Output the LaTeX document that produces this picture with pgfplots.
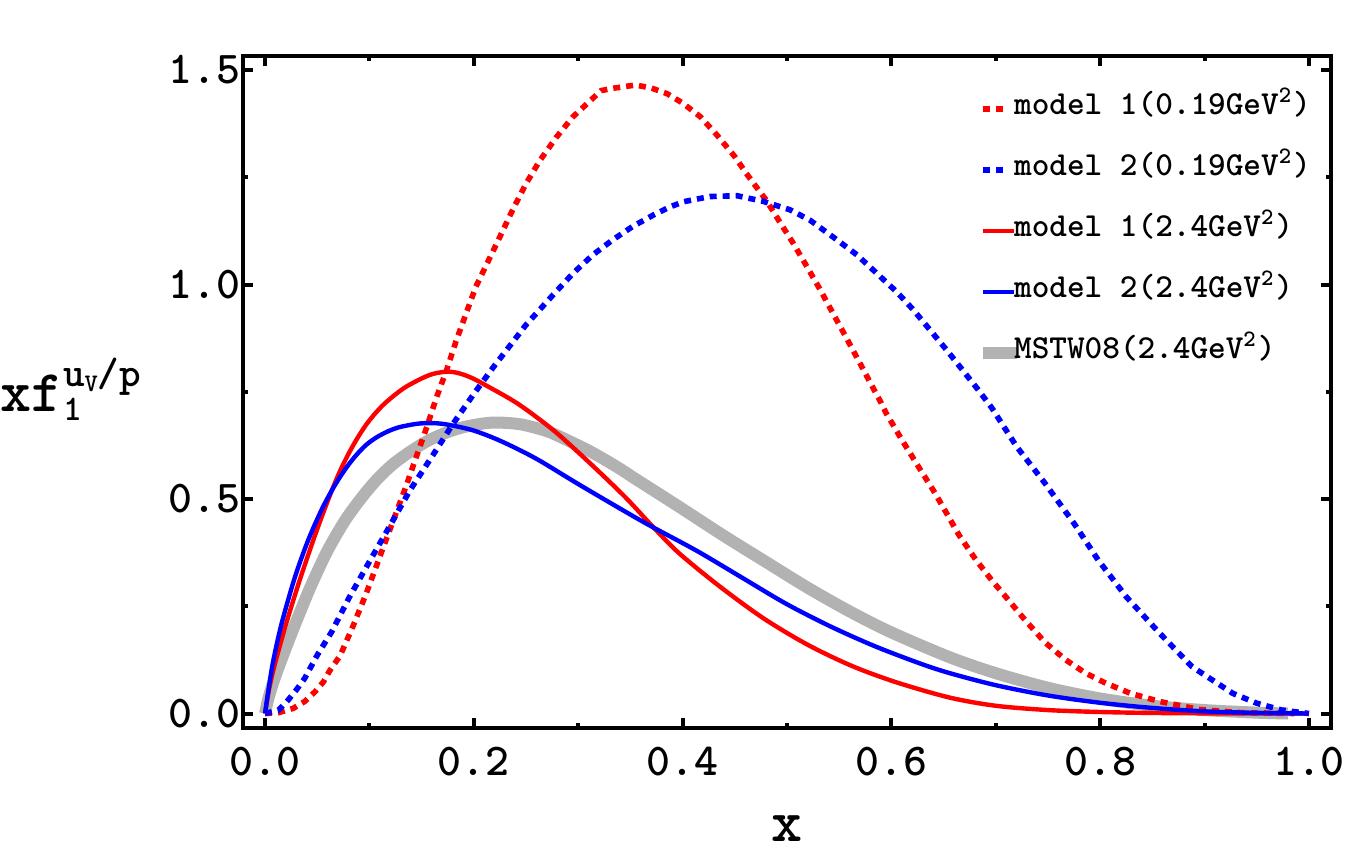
\documentclass[border=0pt]{standalone}
\usepackage{fontspec}
\setmainfont{lmmono10-regular.otf}[BoldFont=lmmonolt10-bold.otf]
\usepackage{pgfplots}
\usepackage{pgfplotstable}
\pgfplotsset{compat=1.18}

\definecolor{mred}{rgb}{1,0,0}
\definecolor{mblue}{rgb}{0,0,1}
\definecolor{mgray}{gray}{0.7}

\pgfplotsset{
  dotstyle/.style={line width=1.4pt, dash pattern=on 1.75pt off 1.5pt,
    legend image code/.code={\draw[##1] (0pt,0pt) -- (5pt,0pt);}},
  solidstyle/.style={line width=1.1pt,
    legend image code/.code={\draw[##1] (0pt,0pt) -- (7.75pt,0pt);}},
  bandstyle/.style={mgray, line width=3pt,
    legend image code/.code={\draw[##1] (0pt,0pt) -- (8.5pt,0pt);}},
}

% model 1 at the low scale (0.19 GeV^2)
\pgfplotstableread{
x y
0 0
0.013 0.002
0.027 0.012
0.038 0.028
0.048 0.051
0.056 0.074
0.062 0.100
0.072 0.135
0.084 0.202
0.097 0.280
0.110 0.366
0.123 0.451
0.135 0.529
0.145 0.599
0.155 0.668
0.164 0.735
0.174 0.801
0.183 0.868
0.193 0.935
0.202 0.995
0.222 1.096
0.238 1.178
0.250 1.235
0.263 1.288
0.279 1.343
0.295 1.391
0.314 1.434
0.322 1.452
0.335 1.458
0.355 1.465
0.370 1.458
0.385 1.445
0.400 1.423
0.417 1.391
0.433 1.348
0.450 1.298
0.461 1.259
0.471 1.226
0.480 1.197
0.493 1.146
0.506 1.096
0.519 1.042
0.532 0.987
0.544 0.933
0.557 0.875
0.570 0.816
0.580 0.770
0.590 0.725
0.595 0.700
0.610 0.638
0.626 0.575
0.642 0.513
0.665 0.415
0.681 0.358
0.696 0.311
0.712 0.265
0.728 0.218
0.747 0.166
0.767 0.125
0.786 0.094
0.806 0.070
0.829 0.047
0.857 0.028
0.896 0.009
0.935 0.002
0.986 0
}\mOneLow

% model 2 at the low scale (0.19 GeV^2)
\pgfplotstableread{
x y
0 0
0.013 0.008
0.022 0.031
0.030 0.055
0.038 0.082
0.050 0.136
0.064 0.191
0.081 0.272
0.100 0.354
0.119 0.435
0.139 0.521
0.161 0.603
0.180 0.675
0.200 0.745
0.218 0.805
0.250 0.906
0.276 0.976
0.295 1.026
0.314 1.069
0.333 1.104
0.352 1.135
0.372 1.162
0.388 1.181
0.401 1.193
0.426 1.205
0.452 1.207
0.477 1.194
0.503 1.174
0.522 1.150
0.544 1.111
0.567 1.069
0.586 1.026
0.605 0.983
0.621 0.941
0.637 0.894
0.653 0.847
0.669 0.798
0.683 0.755
0.696 0.713
0.720 0.622
0.747 0.537
0.775 0.443
0.798 0.358
0.825 0.272
0.857 0.187
0.888 0.109
0.927 0.047
0.950 0.024
0.974 0.008
1.000 0
}\mTwoLow

% model 1 evolved to 2.4 GeV^2
\pgfplotstableread{
x y
0 0
0.004 0.058
0.0092 0.113
0.0198 0.206
0.0327 0.307
0.0455 0.399
0.055 0.463
0.064 0.520
0.072 0.566
0.0797 0.604
0.088 0.640
0.0968 0.673
0.105 0.698
0.1139 0.721
0.125 0.744
0.1353 0.762
0.150 0.781
0.160 0.791
0.1705 0.796
0.180 0.796
0.190 0.790
0.200 0.780
0.2123 0.764
0.2422 0.722
0.2764 0.660
0.3106 0.585
0.3448 0.505
0.3705 0.438
0.396 0.375
0.4346 0.298
0.4774 0.222
0.520 0.160
0.563 0.110
0.6057 0.072
0.656 0.037
0.700 0.018
0.750 0.008
0.800 0.0035
0.850 0.0013
0.900 0.0004
0.950 0.0001
1.000 0
}\mOneHigh

% model 2 evolved to 2.4 GeV^2
\pgfplotstableread{
x y
0 0
0.003 0.050
0.0075 0.118
0.0156 0.207
0.0284 0.316
0.041 0.402
0.054 0.474
0.064 0.520
0.072 0.552
0.080 0.580
0.088 0.604
0.0968 0.626
0.107 0.644
0.118 0.658
0.128 0.667
0.1396 0.673
0.148 0.676
0.157 0.677
0.167 0.676
0.178 0.672
0.1994 0.660
0.225 0.636
0.259 0.595
0.302 0.532
0.362 0.447
0.413 0.380
0.456 0.318
0.499 0.256
0.5416 0.203
0.584 0.157
0.627 0.117
0.656 0.094
0.700 0.066
0.750 0.042
0.800 0.025
0.850 0.013
0.900 0.005
0.950 0.0015
1.000 0
}\mTwoHigh

% MSTW08 at 2.4 GeV^2
\pgfplotstableread{
x y
0 0
0.003 0.033
0.007 0.066
0.012 0.101
0.020 0.153
0.030 0.215
0.043 0.292
0.057 0.366
0.067 0.411
0.078 0.455
0.0925 0.503
0.107 0.545
0.1225 0.581
0.140 0.612
0.157 0.637
0.175 0.656
0.191 0.668
0.2166 0.678
0.2422 0.675
0.262 0.664
0.2764 0.652
0.3106 0.612
0.337 0.575
0.3535 0.549
0.396 0.483
0.439 0.415
0.480 0.353
0.520 0.293
0.560 0.238
0.600 0.189
0.656 0.131
0.700 0.094
0.750 0.060
0.800 0.035
0.850 0.018
0.900 0.008
0.950 0.002
0.980 0
}\mstw

\begin{document}
\begin{tikzpicture}
\useasboundingbox (-60.75pt,-32.75pt) rectangle (276.75pt,182pt);
\begin{axis}[
  at={(0pt,0pt)}, anchor=south west,
  scale only axis, width=272pt, height=168pt,
  xmin=-0.0211, xmax=1.0211, ymin=-0.0338, ymax=1.5326,
  xtick={0,0.2,0.4,0.6,0.8,1.0},
  xticklabels={0.0,0.2,0.4,0.6,0.8,1.0},
  minor xtick={0.1,0.3,0.5,0.7,0.9},
  ytick={0,0.5,1,1.5},
  yticklabels={0.0,0.5,1.0,1.5},
  minor ytick={0.25,0.75,1.25},
  tick align=inside,
  major tick length=2.5pt, minor tick length=1.25pt,
  every tick/.append style={black, line width=1pt},
  axis line style={line width=1pt},
  tick label style={font=\fontsize{11.4}{13}\selectfont\bfseries},
  xticklabel style={yshift=-1.2pt},
  yticklabel style={inner xsep=0pt, xshift=-0.5pt},
  xlabel={\fontsize{14.8}{16}\selectfont\bfseries x},
  xlabel style={at={(axis description cs:0.5,-0.1696)}, anchor=base, inner sep=0pt},
  ylabel={\bfseries{\fontsize{14.8}{16}\selectfont xf}\rlap{\raisebox{6.4pt}{\fontsize{10.3}{11}\selectfont u\raisebox{-1.25pt}{\fontsize{6.3}{7}\selectfont V}/p}}\raisebox{-2.2pt}{\fontsize{9}{10}\selectfont 1}},
  ylabel style={rotate=-90, at={(axis description cs:-0.2233,0.4707)}, anchor=base west, inner sep=0pt},
  legend cell align=left,
  legend style={at={(axis description cs:0.6746,0.9375)}, anchor=north west,
    draw=none, fill=none, inner sep=0pt, outer sep=0pt,
    row sep=9.75pt, column sep=-2.2pt,
    font=\fontsize{8.4}{9}\selectfont\bfseries,
    nodes={inner sep=0pt, text height=4pt, text depth=1.5pt}},
]
% reference parametrisation underneath the model curves
\addplot[bandstyle, smooth, forget plot] table {\mstw};

\addplot[mred, dotstyle] table {\mOneLow};
\addlegendentry{model 1(0.19GeV\textsuperscript{2})}
\addplot[mblue, dotstyle] table {\mTwoLow};
\addlegendentry{model 2(0.19GeV\textsuperscript{2})}
\addplot[mred, solidstyle, smooth] table {\mOneHigh};
\addlegendentry{model 1(2.4GeV\textsuperscript{2})}
\addplot[mblue, solidstyle, smooth] table {\mTwoHigh};
\addlegendentry{model 2(2.4GeV\textsuperscript{2})}

\addlegendimage{bandstyle}
\addlegendentry{MSTW08(2.4GeV\textsuperscript{2})}
\end{axis}
\end{tikzpicture}
\end{document}
